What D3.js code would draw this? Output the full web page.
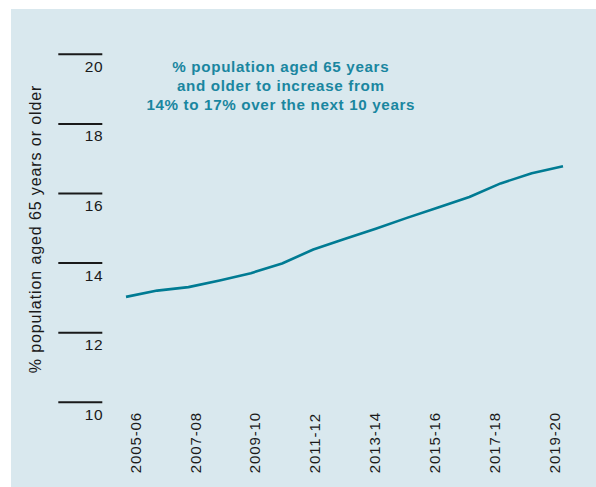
<!DOCTYPE html>
<html>
<head>
<meta charset="utf-8">
<script src="https://cdn.jsdelivr.net/npm/d3@7"></script>
<style>
  body { margin: 0; background: #fff; }
  text { font-family: "Liberation Sans", Arial, Helvetica, sans-serif; }
</style>
</head>
<body>
<div id="chart"></div>
<script>
// data
var years = ["2005-06", "2006-07", "2007-08", "2008-09", "2009-10", "2010-11", "2011-12",
             "2012-13", "2013-14", "2014-15", "2015-16", "2016-17", "2017-18", "2018-19", "2019-20"]
var pctOlder = [13.03, 13.21, 13.31, 13.50, 13.71, 13.99, 14.39,
                14.69, 14.99, 15.30, 15.60, 15.90, 16.29, 16.58, 16.78]
var tickLabels = ["2005-06", "2007-08", "2009-10", "2011-12", "2013-14", "2015-16", "2017-18", "2019-20"]
var yTicks = [10, 12, 14, 16, 18, 20]
var note = ["% population aged 65 years", "and older to increase from", "14% to 17% over the next 10 years"]

var w = 596, h = 487
var teal = "#007b93", ink = "#1a1a1a"

var svg = d3.select("#chart").append("svg")
	.attr("width", w)
	.attr("height", h)

// background panel
svg.append("rect")
	.attr("x", 11).attr("y", 9)
	.attr("width", w - 11).attr("height", h - 9)
	.attr("fill", "#d9e8ee")

// scales: the line and the year labels sit on slightly different spacings
var x = d3.scalePoint().domain(years).range([126, 563])
var xLab = d3.scalePoint().domain(tickLabels).range([135.5, 554.5])
var y = d3.scaleLinear().domain([10, 20]).range([402.3, 54.3])

// y axis: short bars with the value just under them
var yG = svg.append("g")
var tick = yG.selectAll(".tick").data(yTicks).enter().append("g")
	.attr("transform", function(d) { return "translate(0," + y(d) + ")" })

tick.append("line")
	.attr("x1", 58.3).attr("x2", 102.3)
	.attr("stroke", ink).attr("stroke-width", 2)

tick.append("text")
	.attr("x", 103.3).attr("y", 17.6)
	.attr("text-anchor", "end")
	.style("font-size", "15.5px")
	.style("letter-spacing", "0.6px")
	.attr("fill", ink)
	.text(function(d) { return d })

// y title
svg.append("text")
	.attr("transform", "translate(40.5," + 229 + ") rotate(-90)")
	.attr("text-anchor", "middle")
	.style("font-size", "16px")
	.style("letter-spacing", "0.9px")
	.attr("fill", ink)
	.text("% population aged 65 years or older")

// x labels, rotated
svg.append("g").selectAll("text").data(tickLabels).enter().append("text")
	.attr("transform", function(d) { return "translate(" + xLab(d) + ",473.3) rotate(-90)" })
	.attr("dy", "0.35em")
	.style("font-size", "15px")
	.style("letter-spacing", "0.9px")
	.attr("fill", ink)
	.text(function(d) { return d })

// the line
var line = d3.line()
	.x(function(d, i) { return x(years[i]) })
	.y(function(d) { return y(d) })

svg.append("path")
	.datum(pctOlder)
	.attr("d", line)
	.attr("fill", "none")
	.attr("stroke", teal)
	.attr("stroke-width", 2.6)
	.attr("stroke-linejoin", "round")

// annotation
svg.append("g").selectAll("text").data(note).enter().append("text")
	.attr("x", 280.8)
	.attr("y", function(d, i) { return 72 + i * 19 })
	.attr("text-anchor", "middle")
	.style("font-size", "15.2px")
	.style("font-weight", "bold")
	.style("letter-spacing", "0.65px")
	.attr("fill", "#1a86a0")
	.text(function(d) { return d })
</script>
</body>
</html>
